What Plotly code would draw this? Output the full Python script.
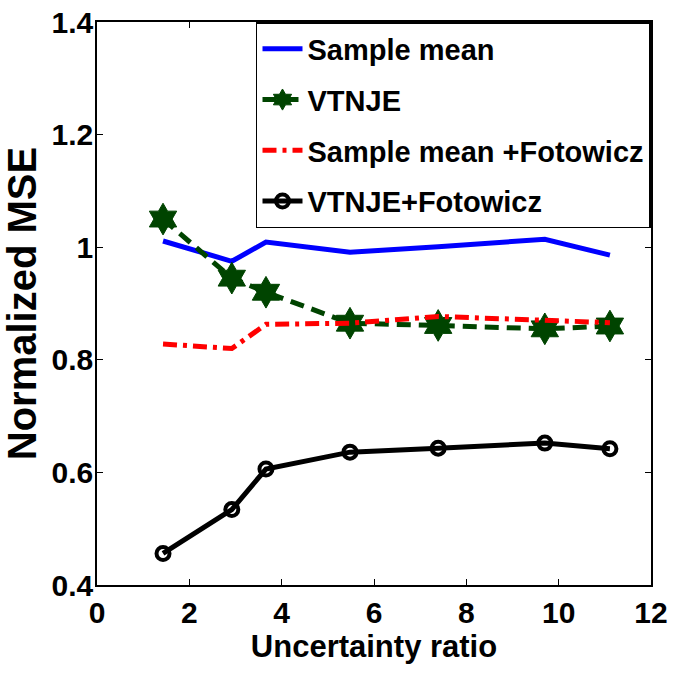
import plotly.graph_objects as go

x_ratio = [1.43, 2.92, 3.66, 5.48, 7.39, 9.70, 11.11]
sample_mean = [1.011, 0.975, 1.009, 0.991, 1.001, 1.014, 0.986]
vtnje = [1.050, 0.945, 0.920, 0.865, 0.861, 0.855, 0.860]
sample_mean_fot = [0.828, 0.820, 0.863, 0.865, 0.877, 0.871, 0.866]
vtnje_fot = [0.456, 0.534, 0.606, 0.636, 0.643, 0.652, 0.642]

y_ticks = [0.4, 0.6, 0.8, 1.0, 1.2, 1.4]
y_tick_labels = ["0.4", "0.6", "0.8", "1", "1.2", "1.4"]
x_ticks = [0, 2, 4, 6, 8, 10, 12]

FONT = "Liberation Sans, Arial, sans-serif"

fig = go.Figure()
fig.add_trace(go.Scatter(x=x_ratio, y=sample_mean, mode="lines", name="Sample mean",
                         legendgroup="a",
                         line=dict(color="#0000ff", width=5)))
fig.add_trace(go.Scatter(x=x_ratio, y=vtnje, mode="lines+markers", name="VTNJE",
                         legendgroup="b",
                         line=dict(color="#004400", width=5, dash="14px,8px"),
                         marker=dict(symbol="hexagram", size=24, color="#004400",
                                     line=dict(color="#004400", width=1))))
fig.add_trace(go.Scatter(x=x_ratio, y=sample_mean_fot, mode="lines", name="Sample mean +Fotowicz",
                         legendgroup="c",
                         line=dict(color="#ff0000", width=5, dash="14px,6px,4px,6px")))
fig.add_trace(go.Scatter(x=x_ratio, y=vtnje_fot, mode="lines+markers", name="VTNJE+Fotowicz",
                         legendgroup="d",
                         line=dict(color="#000000", width=5),
                         marker=dict(symbol="circle-open", size=13, color="#000000",
                                     line=dict(color="#000000", width=4))))

axis_common = dict(showgrid=False, zeroline=False, showline=True, linecolor="black",
                   linewidth=1.5, mirror="ticks", ticks="inside", ticklen=6,
                   tickcolor="black", tickwidth=1,
                   tickfont=dict(family=FONT, size=30, color="black", weight="bold"))

fig.update_layout(
    width=673, height=677,
    margin=dict(l=97, r=22, t=22, b=92, autoexpand=False),
    paper_bgcolor="white", plot_bgcolor="white",
    xaxis=dict(range=[0, 12], tickvals=x_ticks, automargin=False,
               title=dict(text="Uncertainty ratio", standoff=8,
                          font=dict(family=FONT, size=31, color="black", weight="bold")),
               **axis_common),
    yaxis=dict(range=[0.4, 1.4], tickvals=y_ticks, ticktext=y_tick_labels, automargin=False,
               ticklabelstandoff=-4,
               title=dict(text="Normalized MSE", standoff=10,
                          font=dict(family=FONT, size=40, color="black", weight="bold")),
               **axis_common),
    legend=dict(x=0.287, y=1.0, xanchor="left", yanchor="top",
                bgcolor="white", bordercolor="black", borderwidth=1.5,
                font=dict(family=FONT, size=29, color="black", weight="bold"),
                tracegroupgap=10, itemwidth=40),
    showlegend=True,
)

fig.write_html("out.html")
